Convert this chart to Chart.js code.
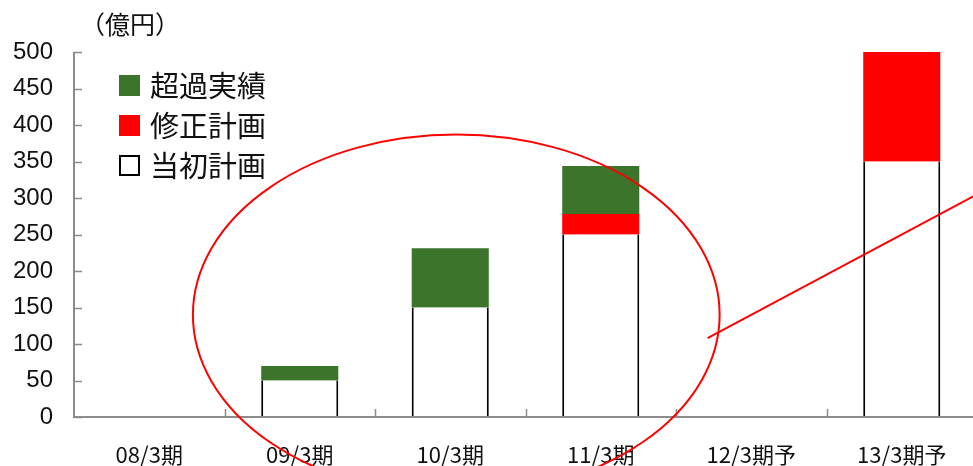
<!DOCTYPE html>
<html lang="ja">
<head>
<meta charset="utf-8">
<title>売上計画と実績</title>
<script src="https://cdn.jsdelivr.net/npm/chart.js@4.4.1/dist/chart.umd.min.js"></script>
<style>
  html, body { margin: 0; padding: 0; background: #fff; overflow: hidden; }
  #planChart { display: block; }
</style>
</head>
<body>
<canvas id="planChart" width="980" height="466"></canvas>
<script>
// ===============================
// Data
// ===============================
const categories = ["08/3期", "09/3期", "10/3期", "11/3期", "12/3期予", "13/3期予"];
const initialPlan = [null, 50, 150, 250, null, 350];   // 当初計画
const revisedPlan = [null, null, null, 28, null, 150];  // 修正計画
const excessResult = [null, 20, 81, 66, null, null];    // 超過実績
const yTicks = [0, 50, 100, 150, 200, 250, 300, 350, 400, 450, 500];
const unitLabel = "（億円）";

// red markup: ellipse round the past years, line towards the forecast
const ellipseCenter = [2.04, 140];
const ellipseRadius = [1.75, 247];
const markLine = [[3.71, 108], [5.5, 305]];

const AXIS_GRAY = "#8c8c8c";
const TEXT = "#111";
const JP_FONT = "'Noto Sans CJK JP', 'Noto Sans', sans-serif";

// ===============================
// Axes, markup and legend drawn on top of the bars
// ===============================
const overlayPlugin = {
    id: "overlay",
    afterDatasetsDraw(chart) {
        const ctx = chart.ctx;
        const x = chart.scales.x;
        const y = chart.scales.y;
        const area = chart.chartArea;

        ctx.save();

        // axis lines
        ctx.strokeStyle = AXIS_GRAY;
        ctx.lineWidth = 2;
        ctx.beginPath();
        ctx.moveTo(area.left, y.getPixelForValue(500));
        ctx.lineTo(area.left, area.bottom);
        ctx.lineTo(area.right, area.bottom);
        ctx.stroke();

        // tick marks point into the plot
        ctx.lineWidth = 1.5;
        ctx.beginPath();
        yTicks.forEach(v => {
            const py = Math.round(y.getPixelForValue(v)) + 0.5;
            ctx.moveTo(area.left, py);
            ctx.lineTo(area.left + 8, py);
        });
        for (let i = 0; i < categories.length; i++) {
            const px = Math.round(x.getPixelForValue(i + 0.5)) + 0.5;
            ctx.moveTo(px, area.bottom);
            ctx.lineTo(px, area.bottom - 8);
        }
        ctx.stroke();

        // ellipse
        const cx = x.getPixelForValue(ellipseCenter[0]);
        const cy = y.getPixelForValue(ellipseCenter[1]);
        const rx = x.getPixelForValue(ellipseCenter[0] + ellipseRadius[0]) - cx;
        const ry = cy - y.getPixelForValue(ellipseCenter[1] + ellipseRadius[1]);
        ctx.strokeStyle = "#ff0000";
        ctx.lineWidth = 2;
        ctx.beginPath();
        ctx.ellipse(cx, cy, rx, ry, 0, 0, Math.PI * 2);
        ctx.stroke();

        // line
        ctx.beginPath();
        ctx.moveTo(x.getPixelForValue(markLine[0][0]), y.getPixelForValue(markLine[0][1]));
        ctx.lineTo(x.getPixelForValue(markLine[1][0]), y.getPixelForValue(markLine[1][1]));
        ctx.stroke();

        // unit label
        ctx.fillStyle = TEXT;
        ctx.font = "25px " + JP_FONT;
        ctx.textAlign = "left";
        ctx.textBaseline = "middle";
        ctx.fillText(unitLabel, 80, 24);

        // legend, top series first
        const items = chart.data.datasets.slice().reverse();
        ctx.font = "29px " + JP_FONT;
        items.forEach((ds, i) => {
            const rowY = 86 + i * 40;
            if (ds.legendHollow) {
                ctx.fillStyle = "#fff";
                ctx.fillRect(120, rowY - 10, 19, 19);
                ctx.strokeStyle = "#000";
                ctx.lineWidth = 2;
                ctx.strokeRect(120, rowY - 10, 19, 19);
            } else {
                ctx.fillStyle = ds.backgroundColor;
                ctx.fillRect(119, rowY - 11, 21, 21);
            }
            ctx.fillStyle = TEXT;
            ctx.fillText(ds.label, 150, rowY);
        });

        ctx.restore();
    }
};

// ===============================
// Chart
// ===============================
const ctx = document.getElementById("planChart").getContext("2d");

new Chart(ctx, {
    type: "bar",
    data: {
        labels: categories,
        datasets: [
            {
                label: "当初計画",
                data: initialPlan,
                backgroundColor: "#ffffff",
                borderColor: "#000000",
                borderWidth: { left: 2, right: 2, top: 0, bottom: 0 },
                borderSkipped: false,
                legendHollow: true
            },
            {
                label: "修正計画",
                data: revisedPlan,
                backgroundColor: "#ff0000",
                borderWidth: 0
            },
            {
                label: "超過実績",
                data: excessResult,
                backgroundColor: "#3b742a",
                borderWidth: 0
            }
        ]
    },
    options: {
        responsive: false,
        animation: false,
        devicePixelRatio: 1,
        layout: {
            padding: { left: 0, top: 52, right: 3, bottom: 0 }
        },
        plugins: {
            legend: { display: false },
            tooltip: { enabled: false }
        },
        datasets: {
            bar: {
                categoryPercentage: 1,
                barPercentage: 0.512
            }
        },
        scales: {
            x: {
                stacked: true,
                offset: true,
                grid: { display: false, drawTicks: false },
                border: { display: false },
                ticks: {
                    color: TEXT,
                    padding: 24,
                    maxRotation: 0,
                    autoSkip: false,
                    font: { family: JP_FONT, size: 22 }
                },
                afterFit(scale) { scale.height = 49; }
            },
            y: {
                stacked: true,
                min: 0,
                max: 500,
                grid: { display: false, drawTicks: false },
                border: { display: false },
                ticks: {
                    color: TEXT,
                    padding: 21,
                    stepSize: 50,
                    font: { family: "'Liberation Sans', Arial, sans-serif", size: 24 }
                },
                afterFit(scale) { scale.width = 74; }
            }
        }
    },
    plugins: [overlayPlugin]
});
</script>
</body>
</html>
